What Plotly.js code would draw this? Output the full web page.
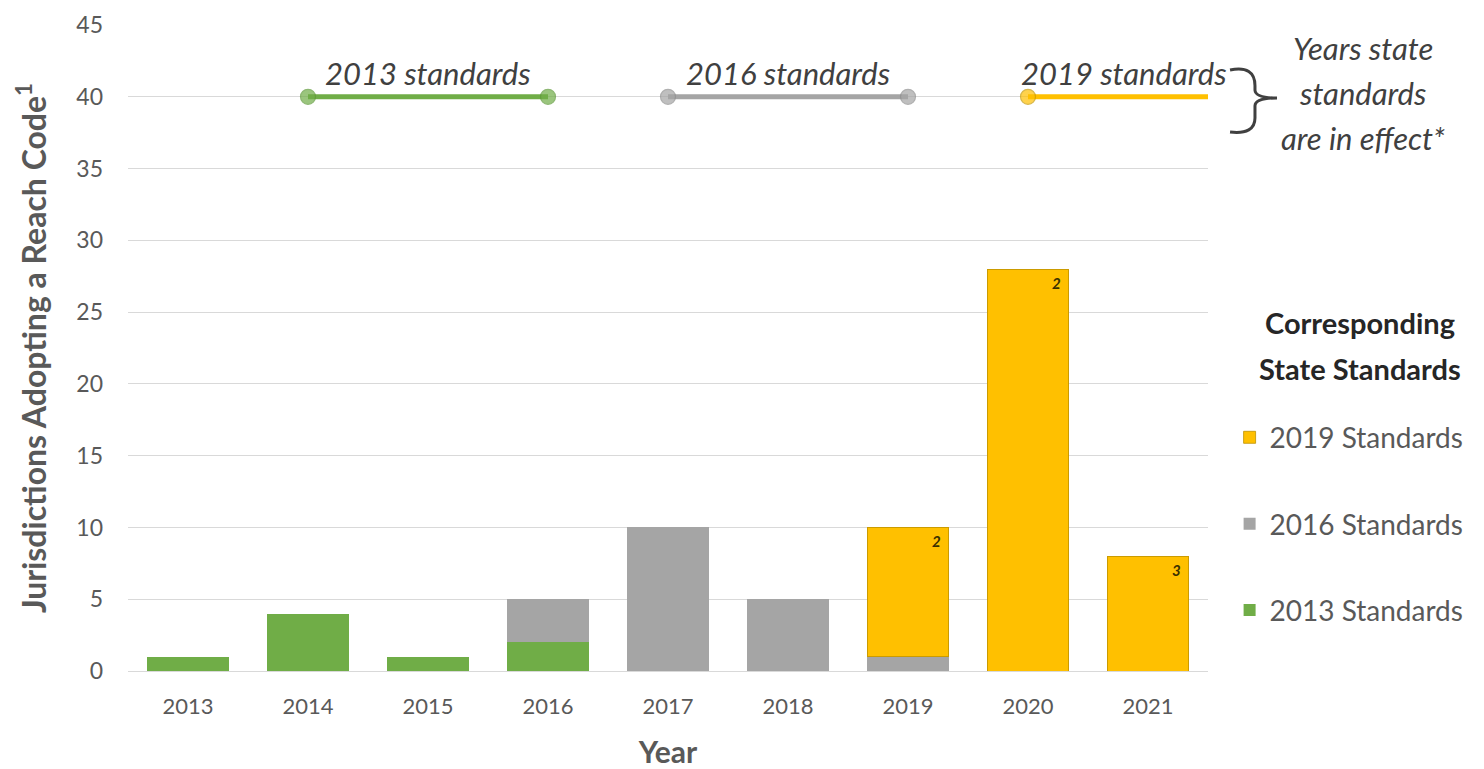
<!DOCTYPE html>
<html>
<head>
<meta charset="utf-8">
<script src="https://cdn.plot.ly/plotly-3.0.1.min.js"></script>
<style>html,body{margin:0;padding:0;background:#fff;}#chart{width:1484px;height:769px;}</style>
</head>
<body>
<div id="chart"></div>
<script>
// ---- data ----
const years = [2013, 2014, 2015, 2016, 2017, 2018, 2019, 2020, 2021];
const std2013 = [1, 4, 1, 2, null, null, null, null, null];
const std2016 = [null, null, null, 3, 10, 5, 1, null, null];
const std2019 = [null, null, null, null, null, null, 9, 28, 8];
const seriesNames = ['2013 Standards', '2016 Standards', '2019 Standards'];
const legendRanks = [3, 2, 1];

// years state standards are in effect
const spanLabels = ['2013 standards', '2016 standards', '2019 standards'];
const spanStart = [2014, 2017, 2020];
const spanEnd = [2016, 2019, 2021.6];
const spanLevel = 40;

// small notes inside bars
const noteYears = [2019, 2020, 2021];
const noteText = ['2', '2', '3'];

const sideNote = ['Years state', 'standards', 'are in effect*'];
const legendHeading = ['Corresponding', 'State Standards'];

const colors = ['#70AD47', '#A5A5A5', '#FFC000'];
const edge = ['#5E9A38', '#8F8F8F', '#C99A00'];
const FONT = 'Lato, "Open Sans", sans-serif';

const totals = years.map((y, i) => (std2013[i] || 0) + (std2016[i] || 0) + (std2019[i] || 0));

const barData = [std2013, std2016, std2019];
const traces = barData.map((vals, k) => ({
  type: 'bar',
  x: years,
  y: vals,
  name: seriesNames[k],
  legendgroup: 'g' + k,
  legendrank: legendRanks[k],
  width: 0.68,
  marker: {color: colors[k], line: {color: k === 2 ? 'rgba(190,145,0,0.8)' : 'rgba(0,0,0,0)', width: k === 2 ? 1 : 0}},
  hoverinfo: 'x+y+name'
}));

spanLabels.forEach((lab, k) => {
  const isOpen = k === 2;
  traces.push({
    type: 'scatter',
    mode: 'lines+markers',
    x: [spanStart[k], spanEnd[k]],
    y: [spanLevel, spanLevel],
    line: {color: colors[k], width: 5},
    marker: {size: isOpen ? [15, 0] : [15, 15], color: colors[k], line: {color: edge[k], width: 1.2}},
    showlegend: false,
    hoverinfo: 'skip',
    cliponaxis: false
  });
});

const annotations = [];
spanLabels.forEach((lab, k) => {
  const open = k === 2;
  annotations.push({
    x: open ? spanStart[k] : (spanStart[k] + spanEnd[k]) / 2,
    y: spanLevel, xref: 'x', yref: 'y',
    text: lab, showarrow: false,
    xanchor: open ? 'left' : 'center', yanchor: 'bottom',
    xshift: open ? -9 : 0, yshift: 3,
    font: {family: FONT, size: 31, color: '#404040', style: 'italic'}
  });
});
noteYears.forEach((yr, i) => {
  const idx = years.indexOf(yr);
  annotations.push({
    x: yr + 0.24, y: totals[idx], xref: 'x', yref: 'y',
    text: noteText[i], showarrow: false,
    xanchor: 'center', yanchor: 'top', yshift: -3,
    font: {family: FONT, size: 15, color: '#3A3000', style: 'italic', weight: 'bold'}
  });
});
const sideNoteY = [0.9644, 0.8947, 0.8251];
sideNote.forEach((t, i) => {
  annotations.push({
    x: 1.1435, y: sideNoteY[i], xref: 'paper', yref: 'paper',
    text: t, showarrow: false, xanchor: 'center', yanchor: 'middle',
    font: {family: FONT, size: 31, color: '#404040', style: 'italic'}
  });
});
const headingY = [0.5402, 0.4690];
legendHeading.forEach((t, i) => {
  annotations.push({
    x: 1.1407, y: headingY[i], xref: 'paper', yref: 'paper',
    text: t, showarrow: false, xanchor: 'center', yanchor: 'middle',
    font: {family: FONT, size: 29, color: '#262626', weight: 'bold'}
  });
});

const shapes = [{
  type: 'path', xref: 'paper', yref: 'paper',
  path: 'M 1.0204,0.9303 Q 1.0435,0.9380 1.0435,0.9060 L 1.0435,0.8990 Q 1.0440,0.8870 1.0639,0.8870 Q 1.0440,0.8870 1.0435,0.8750 L 1.0435,0.8560 Q 1.0435,0.8300 1.0204,0.8344',
  line: {color: '#404040', width: 3}
}];

const layout = {
  width: 1484, height: 769,
  margin: {l: 128, r: 276, t: 25, b: 98, autoexpand: false},
  paper_bgcolor: '#FFFFFF', plot_bgcolor: '#FFFFFF',
  barmode: 'stack',
  font: {family: FONT, color: '#595959'},
  xaxis: {
    type: 'linear', range: [2012.5, 2021.5],
    tickvals: years, ticktext: years.map(String),
    showgrid: false, zeroline: false, showline: false, ticks: '',
    tickfont: {family: FONT, size: 22, color: '#595959'},
    ticklabelstandoff: 20,
    title: {text: 'Year', font: {family: FONT, size: 30, color: '#595959', weight: 'bold'}, standoff: 30}
  },
  yaxis: {
    range: [0, 45], dtick: 5, tick0: 0,
    showgrid: true, gridcolor: '#D9D9D9', gridwidth: 1.3,
    zeroline: true, zerolinecolor: '#D9D9D9', zerolinewidth: 1.3,
    showline: false, ticks: '',
    tickfont: {family: FONT, size: 23, color: '#595959'},
    ticklabelstandoff: 24,
    title: {text: 'Jurisdictions Adopting a Reach Code<sup>1</sup>', font: {family: FONT, size: 32, color: '#595959', weight: 'bold'}, standoff: 20}
  },
  showlegend: true,
  legend: {
    x: 1.02, y: 0.40, xanchor: 'left', yanchor: 'top',
    traceorder: 'grouped', tracegroupgap: 47,
    font: {family: FONT, size: 28, color: '#595959'},
    bgcolor: 'rgba(0,0,0,0)'
  },
  annotations: annotations,
  shapes: shapes
};

Plotly.newPlot('chart', traces, layout, {displayModeBar: false, responsive: false});
</script>
</body>
</html>
